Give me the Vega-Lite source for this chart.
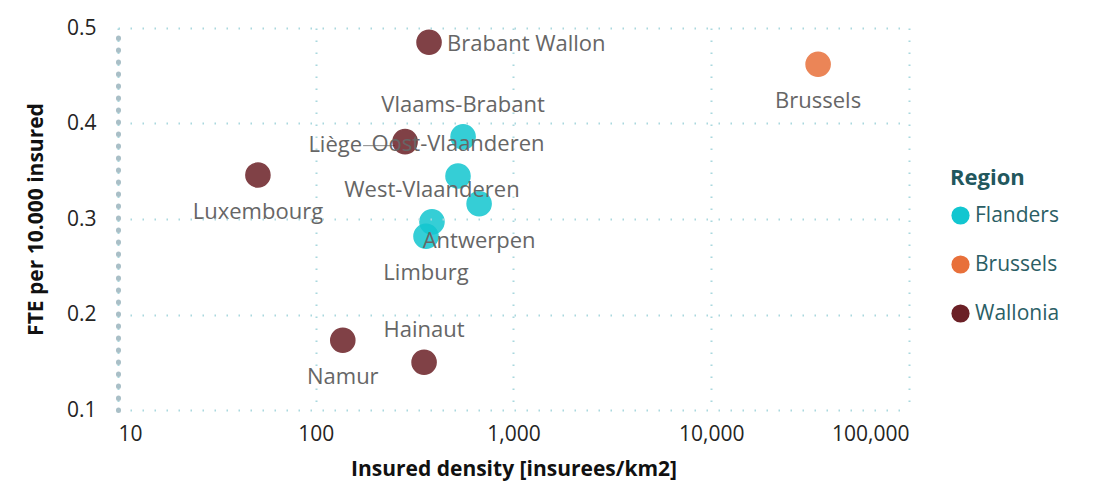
{
  "$schema": "https://vega.github.io/schema/vega-lite/v6.json",
  "autosize": "none",
  "width": 791,
  "height": 382,
  "padding": {"left": 118, "top": 28, "right": 184, "bottom": 75},
  "background": "white",
  "config": {
    "font": "Open Sans",
    "view": {"stroke": null}
  },
  "data": {
    "values": [
      {"province": "Brabant Wallon", "region": "Wallonia", "density": 374, "fte": 0.485},
      {"province": "Brussels", "region": "Brussels", "density": 34700, "fte": 0.462},
      {"province": "Liège", "region": "Wallonia", "density": 283, "fte": 0.381},
      {"province": "Vlaams-Brabant", "region": "Flanders", "density": 556, "fte": 0.386},
      {"province": "Oost-Vlaanderen", "region": "Flanders", "density": 524, "fte": 0.345},
      {"province": "Antwerpen", "region": "Flanders", "density": 670, "fte": 0.316},
      {"province": "West-Vlaanderen", "region": "Flanders", "density": 387, "fte": 0.297},
      {"province": "Limburg", "region": "Flanders", "density": 361, "fte": 0.282},
      {"province": "Luxembourg", "region": "Wallonia", "density": 51, "fte": 0.346},
      {"province": "Namur", "region": "Wallonia", "density": 137, "fte": 0.173},
      {"province": "Hainaut", "region": "Wallonia", "density": 353, "fte": 0.150}
    ]
  },
  "encoding": {
    "x": {
      "field": "density", "type": "quantitative",
      "scale": {"type": "log", "domain": [10, 100000], "nice": false},
      "axis": {
        "title": "Insured density [insurees/km2]",
        "values": [10, 100, 1000, 10000, 100000],
        "format": ",",
        "domain": false, "ticks": false,
        "labelFontSize": 21, "labelColor": "#252423", "labelPadding": 13,
        "titleFontSize": 21, "titleFontWeight": "bold", "titleColor": "#111111", "titlePadding": 14,
        "grid": true, "gridColor": "#a9d8de", "gridWidth": 2, "gridDash": [1.5, 10.5]
      }
    },
    "y": {
      "field": "fte", "type": "quantitative",
      "scale": {"domain": [0.1, 0.5], "nice": false, "zero": false},
      "axis": {
        "title": "FTE per 10.000 insured",
        "values": [0.1, 0.2, 0.3, 0.4, 0.5],
        "format": ".1f",
        "domain": true, "domainColor": "#a9bfc7", "domainWidth": 5, "domainDash": [0.5, 11.5], "domainCap": "round",
        "ticks": false, "zindex": 1,
        "labelFontSize": 21, "labelColor": "#252423", "labelPadding": 22,
        "titleFontSize": 21, "titleFontWeight": "bold", "titleColor": "#111111", "titlePadding": 20,
        "grid": true, "gridColor": "#a9d8de", "gridWidth": 2, "gridDash": [1.5, 10.5]
      }
    }
  },
  "layer": [
    {
      "transform": [{"filter": {"field": "province", "oneOf": ["Liège"]}}],
      "mark": {"type": "rule", "color": "#8a8a8a", "strokeWidth": 1, "xOffset": -42, "x2Offset": -10, "yOffset": 4},
      "encoding": {"x2": {"field": "density"}}
    },
    {
      "mark": {"type": "circle", "size": 580, "opacity": 0.85, "strokeWidth": 1.5, "strokeOpacity": 1},
      "encoding": {
        "color": {
          "field": "region", "type": "nominal",
          "scale": {"domain": ["Flanders", "Brussels", "Wallonia"], "range": ["#12c6d0", "#e8703a", "#6b2026"]},
          "legend": {
            "title": "Region",
            "orient": "none", "legendX": 832, "legendY": 140,
            "titleFontSize": 22, "titleFontWeight": "bold", "titleColor": "#22575d", "titlePadding": 15,
            "labelFontSize": 21, "labelColor": "#2b5e65", "labelOffset": 4,
            "symbolType": "circle", "symbolSize": 330, "symbolOpacity": 1, "symbolStrokeWidth": 0,
            "rowPadding": 27
          }
        },
        "stroke": {
          "field": "region", "type": "nominal",
          "scale": {"domain": ["Flanders", "Brussels", "Wallonia"], "range": ["#12c6d0", "#e8703a", "#6b2026"]},
          "legend": null
        }
      }
    },
    {
      "transform": [{"filter": {"field": "province", "oneOf": ["Brabant Wallon"]}}],
      "mark": {"type": "text", "align": "left", "baseline": "middle", "dx": 18, "dy": 2, "fontSize": 22, "color": "#666666"},
      "encoding": {"text": {"field": "province"}}
    },
    {
      "transform": [{"filter": {"field": "province", "oneOf": ["Brussels", "Luxembourg", "Namur", "Antwerpen", "Limburg"]}}],
      "mark": {"type": "text", "align": "center", "baseline": "middle", "dy": 37, "fontSize": 22, "color": "#666666"},
      "encoding": {"text": {"field": "province"}}
    },
    {
      "transform": [{"filter": {"field": "province", "oneOf": ["Vlaams-Brabant", "Oost-Vlaanderen", "West-Vlaanderen", "Hainaut"]}}],
      "mark": {"type": "text", "align": "center", "baseline": "middle", "dy": -32, "fontSize": 22, "color": "#666666"},
      "encoding": {"text": {"field": "province"}}
    },
    {
      "transform": [{"filter": {"field": "province", "oneOf": ["Liège"]}}],
      "mark": {"type": "text", "align": "right", "baseline": "middle", "dx": -43, "dy": 3, "fontSize": 22, "color": "#666666"},
      "encoding": {"text": {"field": "province"}}
    }
  ]
}
